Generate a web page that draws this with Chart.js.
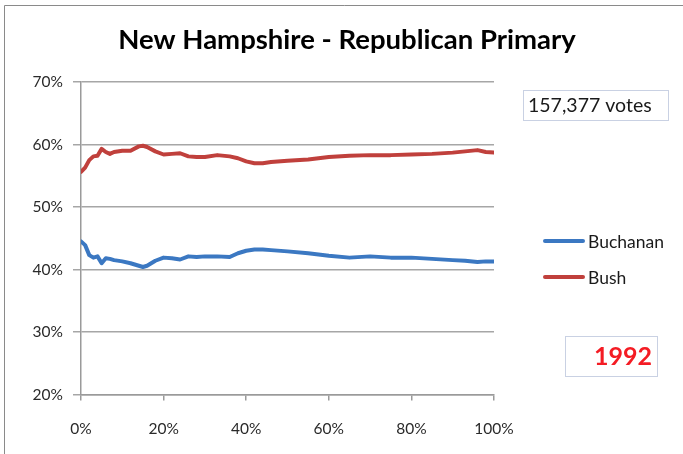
<!DOCTYPE html>
<html>
<head>
<meta charset="utf-8">
<script src="https://cdn.jsdelivr.net/npm/chart.js@4"></script>
<style>
  html, body { margin: 0; padding: 0; background: #fff; }
  canvas { display: block; }
</style>
</head>
<body>
<canvas id="chart" width="683" height="454"></canvas>
<script>
// percent of precincts reporting
const reported = [0, 1, 2, 3, 4, 5, 6, 7, 8, 10, 12, 14, 15, 16, 18, 20, 22, 24, 26, 28, 30, 33, 36, 38, 40, 42, 44, 46, 50, 55, 60, 65, 70, 75, 80, 85, 90, 93, 96, 98, 100];
// running vote share (%)
const buchanan = [44.5, 43.9, 42.3, 41.9, 42.1, 41.0, 41.8, 41.7, 41.5, 41.3, 41.0, 40.6, 40.4, 40.6, 41.4, 41.9, 41.8, 41.6, 42.1, 42.0, 42.1, 42.1, 42.0, 42.6, 43.0, 43.2, 43.2, 43.1, 42.9, 42.6, 42.2, 41.9, 42.1, 41.9, 41.9, 41.7, 41.5, 41.4, 41.2, 41.3, 41.3];
const bush = [55.6, 56.3, 57.5, 58.1, 58.2, 59.3, 58.8, 58.5, 58.8, 59.0, 59.0, 59.7, 59.8, 59.6, 58.9, 58.4, 58.5, 58.6, 58.1, 58.0, 58.0, 58.3, 58.1, 57.8, 57.3, 57.0, 57.0, 57.2, 57.4, 57.6, 58.0, 58.2, 58.3, 58.3, 58.4, 58.5, 58.7, 58.9, 59.1, 58.8, 58.7];
const seriesNames = ['Buchanan', 'Bush'];
const seriesColors = ['#3b78c2', '#c0403c'];
const yTicks = [20, 30, 40, 50, 60, 70];
const xTicks = [0, 20, 40, 60, 80, 100];

const titleText = 'New Hampshire - Republican Primary';
const votesText = '157,377 votes';
const yearText = '1992';

const FONT = 'Lato, "Open Sans", sans-serif';

const toPoints = vals => vals.map((v, i) => ({ x: reported[i], y: v }));

// frame, title, text boxes and legend
const decorations = {
  id: 'decorations',
  beforeDraw(chart) {
    const ctx = chart.ctx;
    ctx.save();
    ctx.fillStyle = '#fff';
    ctx.fillRect(0, 0, chart.width, chart.height);
    ctx.strokeStyle = '#8a8a8a';
    ctx.lineWidth = 1;
    ctx.beginPath();
    ctx.moveTo(4.5, chart.height + 2);
    ctx.lineTo(4.5, 5.5);
    ctx.lineTo(chart.width + 2, 5.5);
    ctx.stroke();
    ctx.restore();
  },
  afterDraw(chart) {
    const ctx = chart.ctx;
    ctx.save();
    // title
    ctx.fillStyle = '#000';
    ctx.font = 'bold 27.5px ' + FONT;
    ctx.textAlign = 'center';
    ctx.textBaseline = 'middle';
    ctx.fillText(titleText, 347, 40);

    // vote count box
    ctx.strokeStyle = '#c9d1e3';
    ctx.lineWidth = 1;
    ctx.strokeRect(523.5, 90.5, 145, 30);
    ctx.fillStyle = '#1a1a1a';
    ctx.font = '19.5px ' + FONT;
    ctx.textAlign = 'left';
    ctx.fillText(votesText, 528, 106);

    // year box
    ctx.strokeRect(565.5, 336.5, 92, 40);
    ctx.fillStyle = '#f41c24';
    ctx.font = 'bold 25px ' + FONT;
    ctx.textAlign = 'right';
    ctx.fillText(yearText, 652, 357);

    // legend
    chart.data.datasets.forEach((ds, i) => {
      const y = 241 + i * 36;
      ctx.strokeStyle = ds.borderColor;
      ctx.lineWidth = 4;
      ctx.lineCap = 'round';
      ctx.beginPath();
      ctx.moveTo(545, y);
      ctx.lineTo(583, y);
      ctx.stroke();
      ctx.fillStyle = '#1a1a1a';
      ctx.font = '17.5px ' + FONT;
      ctx.textAlign = 'left';
      ctx.fillText(ds.label, 588, y + 1);
    });
    ctx.restore();
  }
};

new Chart(document.getElementById('chart'), {
  type: 'line',
  data: {
    datasets: [
      { label: seriesNames[0], data: toPoints(buchanan), borderColor: seriesColors[0] },
      { label: seriesNames[1], data: toPoints(bush), borderColor: seriesColors[1] }
    ]
  },
  options: {
    responsive: false,
    animation: false,
    layout: { padding: { left: 0, top: 82, right: 189, bottom: 0 } },
    elements: {
      line: { borderWidth: 4, tension: 0, borderJoinStyle: 'round', borderCapStyle: 'round' },
      point: { radius: 0 }
    },
    plugins: { legend: { display: false }, tooltip: { enabled: false } },
    scales: {
      x: {
        type: 'linear',
        min: 0,
        max: 100,
        afterBuildTicks: s => { s.ticks = xTicks.map(v => ({ value: v })); },
        afterFit: s => { s.height = 59.5; },
        grid: { drawOnChartArea: false, drawTicks: true, tickLength: 6, color: '#9a9a9a', lineWidth: 1.5 },
        border: { color: '#9a9a9a', width: 1.5 },
        ticks: { color: '#2a2a2a', font: { family: FONT, size: 15.5 }, padding: 19, maxRotation: 0, callback: v => v + '%' }
      },
      y: {
        min: 20,
        max: 70,
        afterBuildTicks: s => { s.ticks = yTicks.map(v => ({ value: v })); },
        afterFit: s => { s.width = 81; },
        grid: { color: '#a6a6a6', lineWidth: 1.5, tickLength: 8 },
        border: { color: '#9a9a9a', width: 1.5 },
        ticks: { color: '#2a2a2a', font: { family: FONT, size: 15.5 }, padding: 10, callback: v => v + '%' }
      }
    }
  },
  plugins: [decorations]
});
</script>
</body>
</html>
